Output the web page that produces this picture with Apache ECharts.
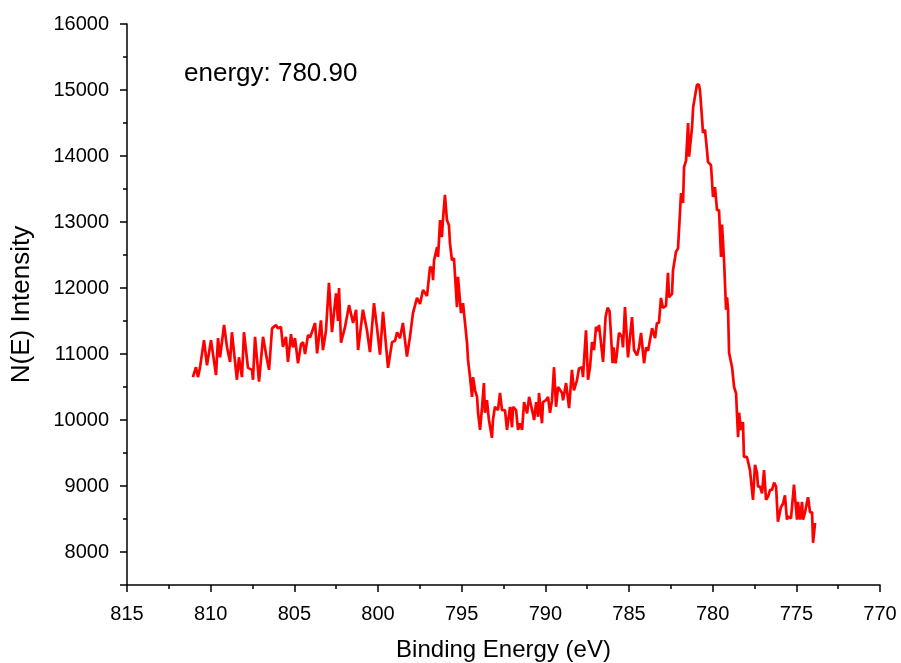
<!DOCTYPE html>
<html>
<head>
<meta charset="utf-8">
<script src="https://cdn.jsdelivr.net/npm/echarts@6/dist/echarts.min.js"></script>
<style>html,body{margin:0;padding:0;background:#fff}#chart{width:901px;height:663px}</style>
</head>
<body>
<div id="chart"></div>
<script>
const energies = [
811.06,810.88,810.76,810.64,810.40,810.22,809.98,809.68,809.56,809.44,809.20,809.02,808.84,808.73,808.43,808.31,808.13,808.01,807.77,807.53,807.47,807.35,807.11,806.87,806.63,806.51,806.33,806.10,805.98,805.80,805.68,805.50,805.38,805.20,805.08,804.96,804.78,804.60,804.48,804.36,804.18,
804.06,803.76,803.64,803.41,803.29,803.11,802.93,802.75,802.51,802.39,802.33,802.21,801.97,801.73,801.49,801.31,801.19,800.90,800.66,800.48,800.24,800.06,799.88,799.70,799.40,799.16,798.98,798.86,798.69,798.51,798.27,798.09,797.91,797.67,797.49,797.31,797.07,796.89,
796.77,796.71,796.65,796.47,796.41,796.29,796.18,796.12,796.00,795.88,795.76,795.70,795.58,795.46,795.28,795.22,795.04,794.92,794.80,794.68,794.62,794.50,794.38,794.32,794.20,794.08,794.02,793.90,793.78,793.67,793.61,793.49,793.37,793.19,793.13,793.01,792.83,792.71,792.59,792.41,792.29,792.11,791.99,791.93,791.75,791.63,791.51,791.39,791.27,791.09,790.97,790.79,790.67,790.55,790.43,790.38,790.20,790.14,789.96,789.84,789.72,789.60,789.48,789.36,789.24,
789.18,789.00,788.94,788.76,788.58,788.41,788.29,788.11,787.99,787.81,787.75,787.57,787.45,787.33,787.21,787.09,786.97,786.85,786.79,786.55,786.40,786.28,786.16,785.98,785.92,785.80,785.72,785.60,785.42,785.36,785.24,785.06,784.82,784.70,784.52,784.40,784.28,784.10,783.98,783.86,783.62,783.44,783.33,783.21,783.09,782.97,782.79,782.67,782.61,782.43,782.37,782.19,782.07,782.01,781.89,781.77,781.71,781.59,781.47,781.41,
781.23,781.17,781.06,780.94,780.82,780.76,780.64,780.58,780.46,780.34,780.28,780.10,779.98,779.86,779.74,779.62,779.50,779.44,779.32,779.20,779.14,779.08,779.02,778.84,778.72,778.60,778.54,778.48,778.42,778.31,778.19,778.13,777.95,777.89,777.77,777.59,777.47,777.35,777.29,777.17,777.05,776.93,776.81,776.69,776.57,776.45,776.33,776.21,776.10,775.92,775.80,775.68,775.56,775.50,775.32,775.14,775.08,774.96,774.90,774.78,774.66,774.60,774.48,774.36,774.30,774.18,774.06,774.00,773.88
];
const intensities = [
10650,10800,10650,10790,11210,10830,11210,10680,11240,10950,11440,11100,10880,11330,10610,10950,10650,11330,10790,10760,10610,11260,10580,11260,10910,10760,11390,11440,11390,11410,11110,11260,10880,11300,11100,11240,10860,11150,11180,11000,11290,
11250,11470,11010,11510,11060,11350,12080,11330,11920,11500,12000,11170,11410,11740,11470,11670,11060,11670,11360,11030,11770,11400,10990,11640,10790,11180,11200,11330,11240,11470,10960,11260,11620,11850,11760,11970,11880,12320,
12300,12120,12420,12620,12470,13030,12770,13030,13410,13030,12950,12680,12420,12450,11710,12170,11620,11770,11470,11170,10910,10650,10350,10650,10450,10350,10110,9850,10200,10560,10110,10300,10000,9730,10000,10200,10150,10410,10150,10150,9850,10200,9890,10200,10150,9850,9950,9850,10270,10100,10350,10150,10000,10270,10050,10410,9950,10270,10300,10350,10110,10300,10800,10200,10500,
10500,10410,10300,10560,10180,10760,10450,10600,10780,10800,10650,11360,10610,10800,11180,11060,11410,11350,11440,10880,11560,11700,11650,10860,11100,10860,11010,11320,11260,11100,11710,10950,11560,11060,10980,11100,11320,10860,11100,11050,11390,11240,11470,11470,11850,11700,11730,12230,11860,11910,12270,12550,12600,12600,13440,13290,13830,13930,14500,13990,
14440,14730,14730,15080,15080,15000,14590,14350,14400,14090,13910,13860,13380,13530,13180,13180,12470,12960,12420,11670,11860,11670,11020,10800,10500,10400,10050,9740,10110,9850,9970,9440,9440,9470,9240,8790,9320,9200,8990,8990,8890,9240,8790,8840,8940,8940,9050,8990,8460,8680,8730,8860,8490,8540,8510,9020,8830,8490,8760,8490,8760,8490,8600,8760,8830,8600,8600,8140,8440
];
const xTitle = 'Binding Energy (eV)';
const yTitle = 'N(E) Intensity';
const annotation = 'energy: 780.90';

const data = energies.map((e, i) => [e, intensities[i]]);
const font = 'Liberation Sans, Arial, sans-serif';
const chart = echarts.init(document.getElementById('chart'), null, {renderer: 'canvas'});
chart.setOption({
  animation: false,
  backgroundColor: '#ffffff',
  grid: {left: 127, right: 21, top: 24, bottom: 78, containLabel: false, outerBoundsMode: 'none'},
  xAxis: {
    type: 'value', inverse: true, min: 770, max: 815, interval: 5,
    name: xTitle, nameLocation: 'middle', nameGap: 53,
    nameTextStyle: {fontFamily: font, fontSize: 24, color: '#000'},
    axisLine: {show: true, lineStyle: {color: '#000', width: 1.5}},
    axisTick: {show: true, inside: false, length: 7, lineStyle: {color: '#000', width: 1.5}},
    minorTick: {show: true, splitNumber: 2, length: 4, lineStyle: {color: '#000', width: 1.5}},
    axisLabel: {fontFamily: font, fontSize: 20, color: '#000', margin: 19},
    splitLine: {show: false}
  },
  yAxis: {
    type: 'value', min: 7500, max: 16000, splitNumber: 8,
    name: yTitle, nameLocation: 'middle', nameGap: 92, nameRotate: 90,
    nameTextStyle: {fontFamily: font, fontSize: 26, color: '#000'},
    axisLine: {show: true, lineStyle: {color: '#000', width: 1.5}},
    axisTick: {show: true, inside: false, length: 7, lineStyle: {color: '#000', width: 1.5}},
    minorTick: {show: true, splitNumber: 2, length: 4, lineStyle: {color: '#000', width: 1.5}},
    axisLabel: {fontFamily: font, fontSize: 20, color: '#000', margin: 18,
      formatter: v => (v % 1000 === 0 ? String(v) : '')},
    splitLine: {show: false}
  },
  graphic: [{
    type: 'text', left: 184, top: 61,
    style: {text: annotation, font: '26px ' + font, fill: '#000'}
  }],
  series: [{
    type: 'line', data: data, showSymbol: false, symbol: 'none',
    lineStyle: {color: '#ff0000', width: 2.7}, itemStyle: {color: '#ff0000'}
  }]
});
</script>
</body>
</html>
